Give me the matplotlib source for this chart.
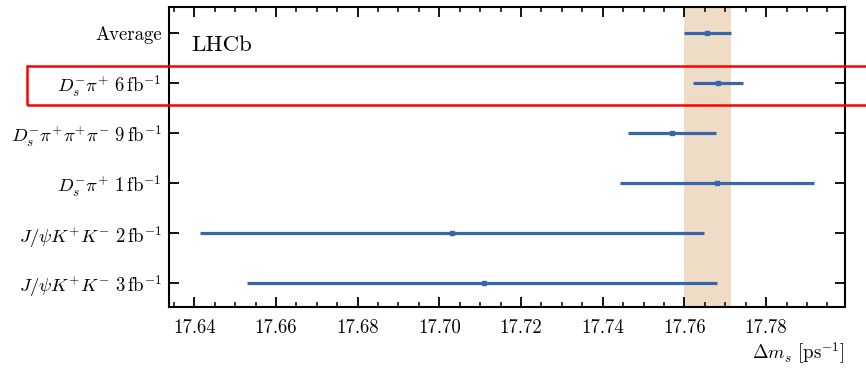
import matplotlib
matplotlib.use("Agg")
from matplotlib import pyplot as plt
from matplotlib.patches import Rectangle
from matplotlib.ticker import MultipleLocator, FormatStrFormatter

# data (bottom to top)
labels = [r"$J/\psi K^{+}K^{-}\ 3\,\mathrm{fb}^{-1}$",
          r"$J/\psi K^{+}K^{-}\ 2\,\mathrm{fb}^{-1}$",
          r"$D_s^{-}\pi^{+}\ 1\,\mathrm{fb}^{-1}$",
          r"$D_s^{-}\pi^{+}\pi^{+}\pi^{-}\ 9\,\mathrm{fb}^{-1}$",
          r"$D_s^{-}\pi^{+}\ 6\,\mathrm{fb}^{-1}$",
          "Average"]
dms = [17.711, 17.703, 17.768, 17.757, 17.7683, 17.7656]
err_lo = [0.058, 0.0617, 0.0237, 0.0108, 0.0061, 0.0057]
err_hi = [0.057, 0.0617, 0.0237, 0.0108, 0.0061, 0.0057]
avg = 17.7656
avg_err = 0.0057

plt.rcParams['font.family'] = 'serif'
plt.rcParams['font.serif'] = ['cmr10']
plt.rcParams['mathtext.fontset'] = 'cm'
plt.rcParams['axes.formatter.use_mathtext'] = True

blue = '#3567aa'
band = '#efdcc7'

fig = plt.figure(figsize=(8.66, 3.71), dpi=100)
ax = fig.add_axes([0.1946, 0.1725, 0.7806, 0.8085])

y = list(range(len(labels)))
ax.axvspan(avg - avg_err, avg + avg_err, color=band, lw=0, zorder=0)
ax.errorbar(dms, y, xerr=[err_lo, err_hi], fmt='s', color=blue,
            ms=3.2, elinewidth=2.3, capsize=0, zorder=3)

ax.set_xlim(17.6337, 17.7992)
ax.set_ylim(-0.48, 5.52)
ax.set_yticks(y)
ax.set_yticklabels(labels)
ax.xaxis.set_major_locator(MultipleLocator(0.02))
ax.xaxis.set_minor_locator(MultipleLocator(0.005))
ax.xaxis.set_major_formatter(FormatStrFormatter('%.2f'))

ax.tick_params(which='both', direction='in', top=True, right=True, labelsize=13.5)
ax.tick_params(which='major', length=7, width=1.3)
ax.tick_params(which='minor', length=3.5, width=1.1)
ax.tick_params(axis='x', pad=9)
ax.tick_params(axis='y', pad=5)
for s in ax.spines.values():
    s.set_linewidth(1.5)

ax.set_xlabel(r"$\mathit{\Delta} m_s$ [ps$^{-1}$]", fontsize=13.5, loc='right', labelpad=2)
ax.text(0.033, 0.873, "LHCb", transform=ax.transAxes, fontsize=16.5, va='center')

# highlight box
fig.add_artist(Rectangle((0.0312, 0.717), 1.2, 0.1043, transform=fig.transFigure,
                         fill=False, edgecolor='red', lw=1.8, clip_on=False))

plt.savefig("out.png", dpi=100)
